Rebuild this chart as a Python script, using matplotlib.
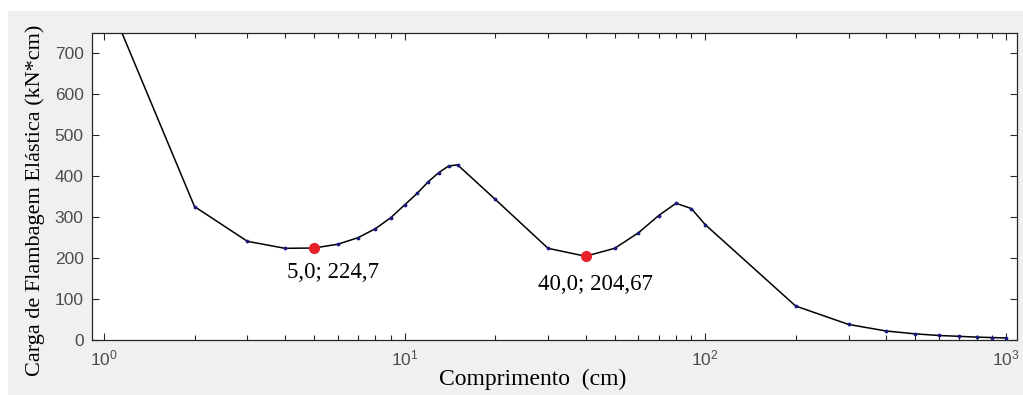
"""Elastic buckling load vs. length (log x), recreated with matplotlib."""

import matplotlib

matplotlib.use("Agg")
import matplotlib.pyplot as plt
from matplotlib.patches import Rectangle
from matplotlib.ticker import LogLocator, MultipleLocator

# data
lengths = [1, 2, 3, 4, 5, 6, 7, 8, 9, 10, 11, 12, 13, 14, 15, 20, 30, 40, 50,
           60, 70, 80, 90, 100, 200, 300, 400, 500, 600, 700, 800, 900, 1000]
loads = [855, 326, 241, 224, 224.7, 234, 250, 272, 299, 330, 358, 387, 409,
         425, 428, 344, 224, 204.67, 224, 262, 304, 334, 321, 282, 83, 38, 22,
         15, 11, 9, 7, 6, 5]
min_x = [5.0, 40.0]
min_y = [224.7, 204.67]
min_labels = ["5,0; 224,7", "40,0; 204,67"]

SERIF = ["Liberation Serif", "DejaVu Serif"]
plt.rcParams["font.family"] = ["Liberation Sans", "DejaVu Sans"]
plt.rcParams["mathtext.default"] = "regular"

fig = plt.figure(figsize=(10.23, 3.95), dpi=100, facecolor="white")
fig.add_artist(Rectangle((8 / 1023, 0), 1, 384 / 395, transform=fig.transFigure,
                         facecolor="#f0f0f0", edgecolor="none", zorder=-10))

ax = fig.add_axes([92 / 1023, 55 / 395, 925 / 1023, 307 / 395])
ax.set_facecolor("white")
ax.plot(lengths, loads, color="black", linewidth=1.1, zorder=2)
ax.plot(lengths, loads, linestyle="none", marker=".", markersize=3.5,
        color="#1a1a80", zorder=3)
ax.plot(min_x, min_y, linestyle="none", marker="o", markersize=7,
        color="#e8202a", zorder=4)

ax.text(5.8, 166, min_labels[0], fontsize=16.5, family=SERIF, ha="center", va="center")
ax.text(43.0, 135, min_labels[1], fontsize=16.5, family=SERIF, ha="center", va="center")

ax.set_xscale("log")
ax.set_xlim(0.912, 1090)
ax.set_ylim(0, 750)
ax.yaxis.set_major_locator(MultipleLocator(100))
ax.xaxis.set_major_locator(LogLocator(base=10, numticks=10))
ax.xaxis.set_minor_locator(LogLocator(base=10, subs=range(2, 10), numticks=20))

for side in ["top", "bottom", "left", "right"]:
    ax.spines[side].set_color("#262626")
    ax.spines[side].set_linewidth(0.9)
ax.tick_params(which="both", direction="in", top=True, right=True,
               colors="#262626", labelcolor="#4d4d4d", labelsize=12.5, width=0.8)
ax.tick_params(which="major", length=5, pad=6)
ax.tick_params(which="minor", length=3.5)

ax.set_xlabel("Comprimento  (cm)", fontsize=17, family=SERIF)
ax.set_ylabel("Carga de Flambagem Elástica (kN*cm)", fontsize=16, family=SERIF)
ax.xaxis.set_label_coords(0.476, -0.095)
ax.yaxis.set_label_coords(-0.051, 0.456)

fig.savefig("out.png", dpi=100, facecolor=fig.get_facecolor())
plt.close(fig)
